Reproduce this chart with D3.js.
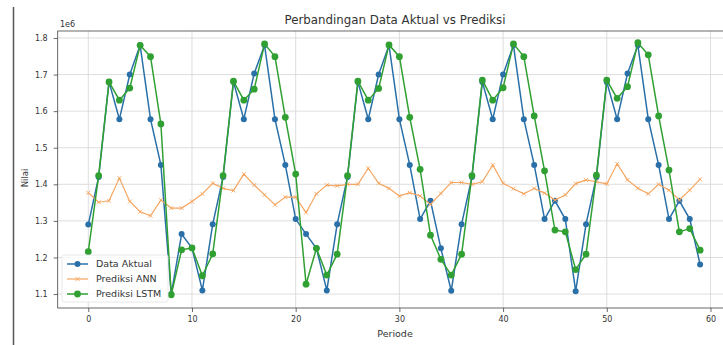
<!DOCTYPE html>
<html>
<head>
<meta charset="utf-8">
<script src="https://cdn.jsdelivr.net/npm/d3@7"></script>
<style>
    body { margin: 0; background: #fff; }
    svg { display: block; font-family: "DejaVu Sans", sans-serif; }
</style>
</head>
<body>
<svg id="chart" width="723" height="345"></svg>
<script>
// Nilai (satuan 1e6), periode 0..59
const dataAktual = [
    1.290, 1.420, 1.680, 1.578, 1.700, 1.780, 1.578, 1.453, 1.100, 1.264, 1.226, 1.110,
    1.291, 1.420, 1.680, 1.578, 1.703, 1.780, 1.578, 1.453, 1.305, 1.264, 1.225, 1.110,
    1.291, 1.420, 1.680, 1.578, 1.700, 1.780, 1.578, 1.453, 1.305, 1.355, 1.225, 1.109,
    1.291, 1.420, 1.680, 1.578, 1.700, 1.780, 1.578, 1.453, 1.305, 1.355, 1.305, 1.108,
    1.291, 1.420, 1.680, 1.578, 1.703, 1.780, 1.578, 1.453, 1.305, 1.355, 1.305, 1.181
];
const prediksiANN = [
    1.377, 1.351, 1.355, 1.417, 1.353, 1.325, 1.314, 1.357, 1.335, 1.335, 1.353, 1.374,
    1.403, 1.389, 1.383, 1.428, 1.398, 1.371, 1.344, 1.365, 1.365, 1.323, 1.374, 1.398,
    1.396, 1.400, 1.400, 1.444, 1.403, 1.389, 1.368, 1.377, 1.368, 1.345, 1.375, 1.405,
    1.405, 1.400, 1.407, 1.453, 1.403, 1.388, 1.374, 1.389, 1.376, 1.357, 1.371, 1.402,
    1.412, 1.407, 1.401, 1.456, 1.412, 1.389, 1.374, 1.400, 1.384, 1.357, 1.384, 1.414
];
const prediksiLSTM = [
    1.216, 1.424, 1.680, 1.630, 1.663, 1.780, 1.749, 1.565, 1.098, 1.221, 1.226, 1.150,
    1.210, 1.424, 1.682, 1.630, 1.660, 1.784, 1.749, 1.583, 1.428, 1.127, 1.225, 1.152,
    1.209, 1.424, 1.682, 1.630, 1.662, 1.781, 1.749, 1.583, 1.441, 1.261, 1.195, 1.152,
    1.209, 1.424, 1.685, 1.630, 1.664, 1.784, 1.749, 1.587, 1.437, 1.275, 1.270, 1.167,
    1.209, 1.425, 1.685, 1.635, 1.667, 1.787, 1.754, 1.587, 1.439, 1.270, 1.279, 1.220
];
const seriesNames = ["Data Aktual", "Prediksi ANN", "Prediksi LSTM"];
const xTicks = [0, 10, 20, 30, 40, 50, 60];
const yTicks = [1.1, 1.2, 1.3, 1.4, 1.5, 1.6, 1.7, 1.8];

const svg = d3.select("#chart");
const plot = {left: 57.7, right: 730.7, top: 31, bottom: 308};

const x = d3.scaleLinear()
            .domain([-2.95, 61.95])
            .range([plot.left, plot.right]);

const y = d3.scaleLinear()
            .domain([1.0619, 1.8191])
            .range([plot.bottom, plot.top]);

const colors = d3.scaleOrdinal()
                 .domain(seriesNames)
                 .range(["#2a70a8", "#f5a660", "#31a033"]);

// garis tepi gambar di kiri
svg.append("line")
   .attr("x1", 13.5).attr("x2", 13.5)
   .attr("y1", 7).attr("y2", 345)
   .attr("stroke", "#555")
   .attr("stroke-width", 1.5);

svg.append("defs").append("clipPath")
   .attr("id", "clip")
   .append("rect")
   .attr("x", plot.left).attr("y", plot.top)
   .attr("width", plot.right - plot.left)
   .attr("height", plot.bottom - plot.top);

// Grid
const grid = svg.append("g").attr("stroke", "#d6d6d6").attr("stroke-width", 0.8);
xTicks.forEach(t => {
    grid.append("line")
        .attr("x1", x(t)).attr("x2", x(t))
        .attr("y1", plot.top).attr("y2", plot.bottom);
});
yTicks.forEach(t => {
    grid.append("line")
        .attr("x1", plot.left).attr("x2", plot.right)
        .attr("y1", y(t)).attr("y2", y(t));
});

// Axes
const xAxis = svg.append("g")
                 .attr("transform", `translate(0,${plot.bottom})`)
                 .call(d3.axisBottom(x).tickValues(xTicks).tickSize(4).tickPadding(4));
const yAxis = svg.append("g")
                 .attr("transform", `translate(${plot.left},0)`)
                 .call(d3.axisLeft(y).tickValues(yTicks).tickFormat(d3.format(".1f")).tickSize(4).tickPadding(6));

[xAxis, yAxis].forEach(ax => {
    ax.select(".domain").remove();
    ax.selectAll("line").attr("stroke", "#444").attr("stroke-width", 0.8);
    ax.selectAll("text")
      .attr("fill", "#333")
      .style("font-size", "8px")
      .style("font-family", "DejaVu Sans, sans-serif");
});

// frame
svg.append("rect")
   .attr("x", plot.left).attr("y", plot.top)
   .attr("width", plot.right - plot.left)
   .attr("height", plot.bottom - plot.top)
   .attr("fill", "none")
   .attr("stroke", "#444")
   .attr("stroke-width", 0.8);

// Series
const allSeries = [dataAktual, prediksiANN, prediksiLSTM];
const line = d3.line()
               .x((d, i) => x(i))
               .y(d => y(d));

const marks = svg.append("g").attr("clip-path", "url(#clip)");

allSeries.forEach((values, k) => {
    const name = seriesNames[k];
    marks.append("path")
         .datum(values)
         .attr("fill", "none")
         .attr("stroke", colors(name))
         .attr("stroke-width", k === 1 ? 1.2 : 1.5)
         .attr("d", line);

    if (k === 1) {
        marks.selectAll(".mx")
             .data(values)
             .enter()
             .append("path")
             .attr("d", "M-2,-2L2,2M-2,2L2,-2")
             .attr("transform", (d, i) => `translate(${x(i)},${y(d)})`)
             .attr("stroke", colors(name))
             .attr("stroke-width", 0.9);
    } else {
        marks.selectAll(`.dot-${k}`)
             .data(values)
             .enter()
             .append("circle")
             .attr("cx", (d, i) => x(i))
             .attr("cy", d => y(d))
             .attr("r", k === 2 ? 3.4 : 3.0)
             .attr("fill", colors(name));
    }
});

// Legend
const legend = svg.append("g");
legend.append("rect")
      .attr("x", 62).attr("y", 255)
      .attr("width", 106).attr("height", 47)
      .attr("rx", 2)
      .attr("fill", "#fff")
      .attr("fill-opacity", 0.8)
      .attr("stroke", "#e2e2e2")
      .attr("stroke-width", 0.8);

seriesNames.forEach((name, i) => {
    const ly = 264 + i * 15;
    legend.append("line")
          .attr("x1", 67).attr("x2", 88)
          .attr("y1", ly).attr("y2", ly)
          .attr("stroke", colors(name))
          .attr("stroke-width", i === 1 ? 1.2 : 1.5);
    if (i === 1) {
        legend.append("path")
              .attr("d", "M-2,-2L2,2M-2,2L2,-2")
              .attr("transform", `translate(77.5,${ly})`)
              .attr("stroke", colors(name))
              .attr("stroke-width", 0.9);
    } else {
        legend.append("circle")
              .attr("cx", 77.5).attr("cy", ly)
              .attr("r", i === 2 ? 3.4 : 3.0)
              .attr("fill", colors(name));
    }
    legend.append("text")
          .attr("x", 96).attr("y", ly)
          .attr("dy", "0.35em")
          .attr("fill", "#333")
          .style("font-size", "9.5px")
          .text(name);
});

// Texts
svg.append("text")
   .attr("x", 395).attr("y", 24)
   .attr("text-anchor", "middle")
   .attr("fill", "#333")
   .style("font-size", "11.8px")
   .text("Perbandingan Data Aktual vs Prediksi");

svg.append("text")
   .attr("x", 60).attr("y", 27)
   .attr("fill", "#333")
   .style("font-size", "8px")
   .text("1e6");

svg.append("text")
   .attr("x", 395).attr("y", 337)
   .attr("text-anchor", "middle")
   .attr("fill", "#333")
   .style("font-size", "9.5px")
   .text("Periode");

svg.append("text")
   .attr("transform", "translate(28,178) rotate(-90)")
   .attr("text-anchor", "middle")
   .attr("fill", "#333")
   .style("font-size", "8.5px")
   .text("Nilai");
</script>
</body>
</html>
